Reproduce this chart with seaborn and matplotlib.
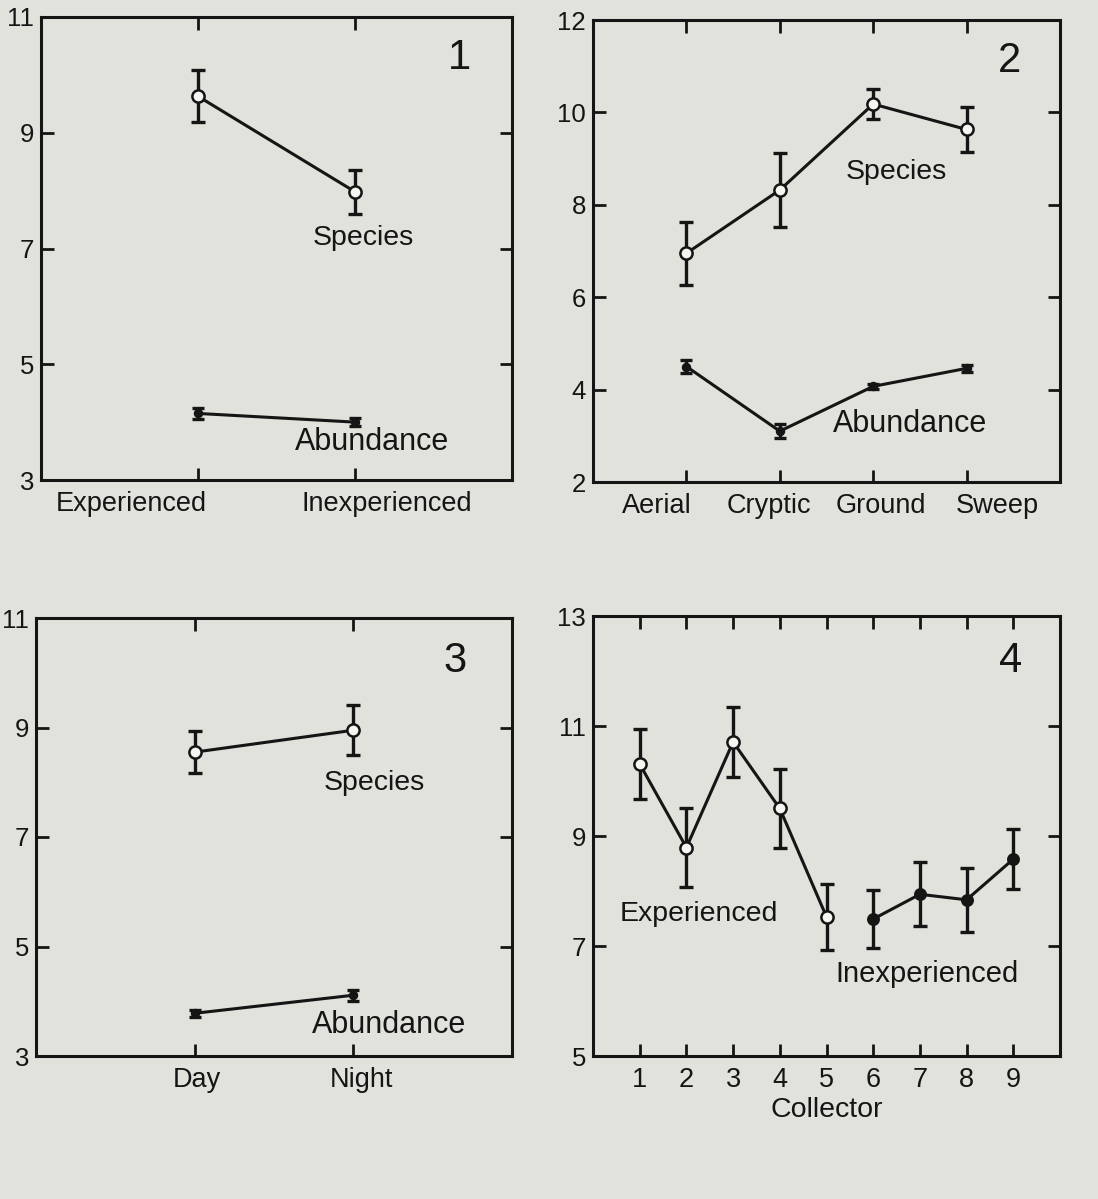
import numpy as np
import pandas as pd
import matplotlib
matplotlib.use("Agg")
import matplotlib.pyplot as plt
import matplotlib.transforms as mtransforms
import seaborn as sns

# Panel 1: collector experience
exp_cats = ["Experienced", "Inexperienced"]
exp_species = [9.63, 7.98]
exp_species_err = [0.45, 0.38]
exp_abund = [4.15, 4.00]
exp_abund_err = [0.09, 0.07]

# Panel 2: collecting method
method_cats = ["Aerial", "Cryptic", "Ground", "Sweep"]
method_species = [6.95, 8.32, 10.18, 9.63]
method_species_err = [0.68, 0.80, 0.32, 0.48]
method_abund = [4.50, 3.10, 4.07, 4.46]
method_abund_err = [0.14, 0.15, 0.05, 0.07]

# Panel 3: time of day
time_cats = ["Day", "Night"]
time_species = [8.55, 8.95]
time_species_err = [0.38, 0.46]
time_abund = [3.78, 4.11]
time_abund_err = [0.06, 0.10]

# Panel 4: individual collectors
collectors = [1, 2, 3, 4, 5, 6, 7, 8, 9]
collector_group = ["Experienced"] * 5 + ["Inexperienced"] * 4
collector_species = [10.31, 8.79, 10.71, 9.50, 7.53, 7.49, 7.94, 7.84, 8.58]
collector_err = [0.63, 0.72, 0.63, 0.72, 0.60, 0.53, 0.58, 0.58, 0.54]

INK = "#151515"
BG = "#e0e2db"
HOLLOW = "#f6f6f2"

sns.set_theme(style="ticks")
plt.rcParams["font.family"] = ["Liberation Sans", "DejaVu Sans"]

W, H = 1098, 1199
fig = plt.figure(figsize=(W / 100, H / 100), dpi=100, facecolor=BG)


def add_axes(left, top, right, bottom):
    ax = fig.add_axes([left / W, 1 - bottom / H, (right - left) / W, (bottom - top) / H])
    ax.set_facecolor(BG)
    return ax


def series(ax, x, y, err, filled, ms, cap=5):
    df = pd.DataFrame({"x": x, "y": y})
    ax.errorbar(x, y, yerr=err, fmt="none", ecolor=INK, elinewidth=2.4,
                capsize=cap, capthick=2.4, zorder=2)
    sns.lineplot(data=df, x="x", y="y", ax=ax, color=INK, lw=2.2, marker="o",
                 markersize=ms, markerfacecolor=INK if filled else HOLLOW,
                 markeredgecolor=INK, markeredgewidth=1.8, zorder=3,
                 legend=False, sort=False)


def frame(ax, ylim, yticks, xlim, xticks, xlabels, number, nx, ny, shifts=None):
    ax.set_xlim(*xlim)
    ax.set_ylim(*ylim)
    ax.set_yticks(yticks)
    ax.set_yticklabels([str(t) for t in yticks])
    ax.set_xticks(xticks)
    ax.set_xticklabels(xlabels)
    ax.tick_params(direction="in", length=9, width=2.0, top=True, right=True,
                   colors=INK)
    ax.tick_params(axis="x", pad=8, labelsize=19.5)
    ax.tick_params(axis="y", pad=5, labelsize=18.5)
    for s in ax.spines.values():
        s.set_linewidth(2.2)
        s.set_color(INK)
    ax.set_xlabel("")
    ax.set_ylabel("")
    # spread the category labels sideways (pixel offsets)
    if shifts is not None:
        for lab, dx in zip(ax.get_xticklabels(), shifts):
            lab.set_transform(lab.get_transform() +
                              mtransforms.ScaledTranslation(dx / 100, 0, fig.dpi_scale_trans))
    ax.text(nx, ny, number, transform=ax.transAxes, ha="right", va="top",
            fontsize=30, color=INK)


# Panel 1
ax1 = add_axes(41, 17, 512, 480)
x1 = np.arange(len(exp_cats))
series(ax1, x1, exp_species, exp_species_err, False, 8.8)
series(ax1, x1, exp_abund, exp_abund_err, True, 5, cap=4)
frame(ax1, (3, 11), [3, 5, 7, 9, 11], (-1, 2), x1, exp_cats, "1", 0.912, 0.955,
      shifts=[-67, 32])
ax1.text(0.73, 7.18, "Species", fontsize=20.5, va="center", color=INK)
ax1.text(0.62, 3.66, "Abundance", fontsize=22, va="center", color=INK)

# Panel 2
ax2 = add_axes(593, 20, 1060, 482)
x2 = np.arange(len(method_cats))
series(ax2, x2, method_species, method_species_err, False, 8.8)
series(ax2, x2, method_abund, method_abund_err, True, 5, cap=4)
frame(ax2, (2, 12), [2, 4, 6, 8, 10, 12], (-1, 4), x2, method_cats, "2", 0.917, 0.955,
      shifts=[-30, -11, 8, 31])
ax2.text(1.70, 8.72, "Species", fontsize=20.5, va="center", color=INK)
ax2.text(1.57, 3.25, "Abundance", fontsize=22, va="center", color=INK)

# Panel 3
ax3 = add_axes(36, 618, 512, 1056)
x3 = np.arange(len(time_cats))
series(ax3, x3, time_species, time_species_err, False, 8.8)
series(ax3, x3, time_abund, time_abund_err, True, 5, cap=4)
frame(ax3, (3, 11), [3, 5, 7, 9, 11], (-1, 2), x3, time_cats, "3", 0.905, 0.948,
      shifts=[2, 8])
ax3.text(0.81, 7.98, "Species", fontsize=20.5, va="center", color=INK)
ax3.text(0.74, 3.56, "Abundance", fontsize=22, va="center", color=INK)

# Panel 4
ax4 = add_axes(593, 616, 1060, 1056)
for group, filled in (("Experienced", False), ("Inexperienced", True)):
    idx = [i for i, g in enumerate(collector_group) if g == group]
    series(ax4, [collectors[i] for i in idx], [collector_species[i] for i in idx],
           [collector_err[i] for i in idx], filled, 8.8 if not filled else 7.5)
frame(ax4, (5, 13), [5, 7, 9, 11, 13], (0, 10), collectors,
      [str(c) for c in collectors], "4", 0.92, 0.943)
ax4.set_xlabel("Collector", fontsize=20.5, color=INK, labelpad=3)
ax4.text(0.57, 7.59, "Experienced", fontsize=20.5, va="center", color=INK)
ax4.text(5.18, 6.50, "Inexperienced", fontsize=21, va="center", color=INK)

fig.savefig("out.png", dpi=100, facecolor=BG)
